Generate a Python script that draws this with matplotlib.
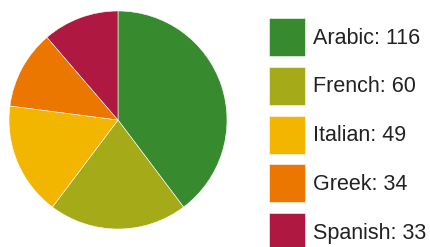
import matplotlib.pyplot as plt

# dati del grafico
lingue = ["Arabic", "French", "Italian", "Greek", "Spanish"]
valori = [116, 60, 49, 34, 33]
colori = ["#378b2e", "#a5aa19", "#f2b600", "#ec7700", "#ae1841"]

W, H = 430, 247
fig = plt.figure(figsize=(W / 100, H / 100), dpi=100)

# torta: centro (118, 120) px, raggio 109 px
cx, cy, r = 118, 120, 109
ax = fig.add_axes([(cx - r) / W, (H - cy - r) / H, 2 * r / W, 2 * r / H])
wedges, _ = ax.pie(valori, colors=colori, startangle=90, counterclock=False,
                   radius=1, wedgeprops=dict(edgecolor="white", linewidth=0.4))
ax.set_xlim(-1, 1)
ax.set_ylim(-1, 1)
ax.set_aspect("equal")
ax.axis("off")

etichette = [f"{l}: {v}" for l, v in zip(lingue, valori)]
fig.legend(wedges, etichette, loc="upper left",
           bbox_to_anchor=(269 / W, 1 - 18 / H), frameon=False,
           prop={"family": "Liberation Sans", "size": 15.5},
           handlelength=1.65, handleheight=2.34, labelspacing=0.5,
           handletextpad=0.4, borderpad=0, borderaxespad=0,
           labelcolor="#222222")

fig.savefig("out.png", dpi=100)
